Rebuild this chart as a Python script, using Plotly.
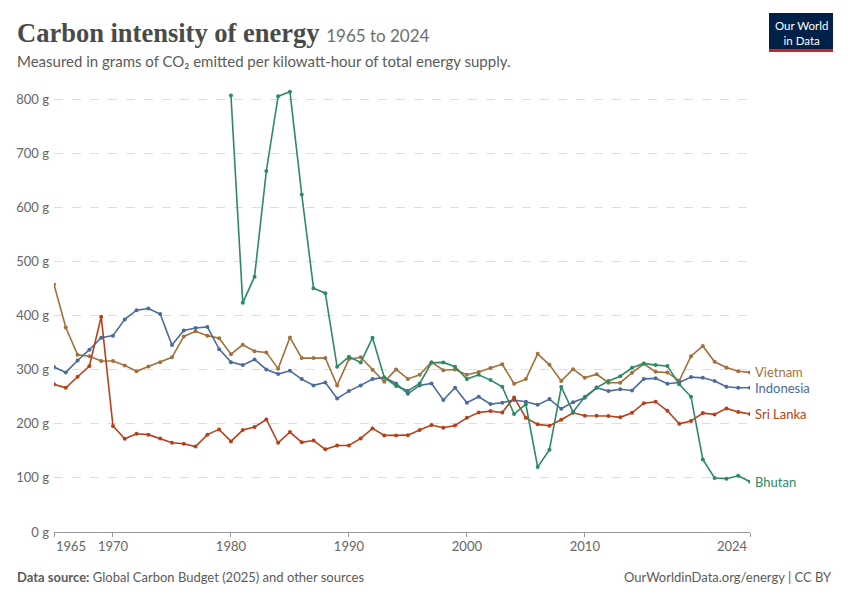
import plotly.graph_objects as go

years = list(range(1965, 2025))
bhutan_years = list(range(1980, 2025))

vietnam = [457.6, 378, 327.5, 325, 316, 316, 308, 297, 306, 314,
           323, 361.5, 371, 363, 358, 328.8, 346, 334, 332, 302,
           359.6, 321.5, 321.5, 321.7, 271, 319.6, 323, 300, 277.7, 300.5,
           283, 290.7, 314, 299, 300.5, 290.7, 295.6, 303, 310, 274,
           282.6, 329.4, 309, 279, 301, 285, 291.6, 276, 276, 294.3,
           311, 296, 295, 279.6, 325, 344, 314.6, 304, 297, 295]

indonesia = [305, 295, 317, 337, 359, 363, 393, 410, 413, 403,
             345.5, 372.6, 377, 379, 338, 314, 308.5, 319, 300.5, 292,
             298, 282.6, 271, 276.5, 247, 260.5, 271, 282.6, 285.7, 274.7,
             255.5, 271, 274.7, 244, 266.6, 239, 250, 236.5, 239, 244,
             240.8, 235, 245.7, 227.8, 240, 248, 266.6, 260.5, 264, 261.7,
             283, 284, 274, 276.5, 286.3, 285, 279, 268.5, 266.6, 266.6]

sri_lanka = [273, 266.6, 287, 306.7, 398, 196, 172.4, 181.6, 180, 173,
             165, 163, 158, 180, 189.7, 167.5, 188.4, 194, 208, 165,
             184.7, 165.7, 169, 152.8, 160, 160, 173, 191.5, 178.6, 178.6,
             179, 188.4, 197.7, 192.7, 197, 211, 221, 223.5, 221, 248.8,
             211, 199, 196.4, 207.5, 220.4, 215, 215, 214.3, 212, 220.4,
             238, 240.8, 224, 200, 205, 219.8, 217.4, 228.5, 222, 218]

bhutan = [806.8, 423.6, 472, 667.5, 805.5, 814, 624, 450.8, 441.5, 305.4,
          324, 313.5, 359, 285.7, 270, 261, 274.7, 312.8, 313.5, 305.4,
          282.6, 290.7, 280.8, 268.5, 218, 236, 120, 152, 268, 222,
          250, 267, 279, 288, 303.5, 311.6, 308.5, 307, 273, 250,
          134, 99.8, 98.5, 104, 93]

series = [
    ("Vietnam", years, vietnam, "#a2713a"),
    ("Indonesia", years, indonesia, "#4c6a9c"),
    ("Sri Lanka", years, sri_lanka, "#b5401a"),
    ("Bhutan", bhutan_years, bhutan, "#2c8a65"),
]

y_ticks = [0, 100, 200, 300, 400, 500, 600, 700, 800]
y_tick_text = ["0 g", "100 g", "200 g", "300 g", "400 g", "500 g", "600 g", "700 g", "800 g"]
x_ticks = [1965, 1970, 1980, 1990, 2000, 2010, 2024]
x_tick_text = ["", "1970", "1980", "1990", "2000", "2010", ""]

W, H = 850, 600
OFF = 8  # page body margin
# target plot area in page pixels: x 54..750, y 83..532
L, R, T, B = 54 - OFF, W - (750 - OFF), 83 - OFF, H - (532 - OFF)

def px(x):
    return (x - OFF - L) / (W - L - R)

def py(y):
    return (H - B - (y - OFF)) / (H - T - B)

fig = go.Figure()
for name, xs, ys, col in series:
    fig.add_trace(go.Scatter(
        x=xs, y=ys, mode="lines+markers", name=name,
        line=dict(color=col, width=1.6),
        marker=dict(color=col, size=4),
        showlegend=False, hoverinfo="skip",
    ))

annotations = []
for name, xs, ys, col in series:
    annotations.append(dict(
        x=xs[-1], y=ys[-1], xref="x", yref="y", text=name,
        showarrow=False, xanchor="left", yanchor="middle", xshift=3,
        font=dict(family="Lato", size=13, color=col),
    ))

annotations.append(dict(
    x=1965, y=0, xref="x", yref="y", text="1965", showarrow=False,
    xanchor="left", yanchor="top", yshift=-4,
    font=dict(family="Lato", size=13, color="#666666"),
))
annotations.append(dict(
    x=2024, y=0, xref="x", yref="y", text="2024", showarrow=False,
    xanchor="right", yanchor="top", yshift=-4,
    font=dict(family="Lato", size=13, color="#666666"),
))

annotations.append(dict(
    x=px(15), y=py(33), xref="paper", yref="paper", showarrow=False,
    xanchor="left", yanchor="middle",
    text='<b>Carbon intensity of energy</b> <span style="font-family:Lato;font-size:17px;color:#6e6e6e">1965 to 2024</span>',
    font=dict(family="Liberation Serif", size=26.5, color="#4a4a4a"),
))
annotations.append(dict(
    x=px(15), y=py(61), xref="paper", yref="paper", showarrow=False,
    xanchor="left", yanchor="middle",
    text="Measured in grams of CO₂ emitted per kilowatt-hour of total energy supply.",
    font=dict(family="Lato", size=15, color="#5b5b5b"),
))
annotations.append(dict(
    x=px(15), y=py(577), xref="paper", yref="paper", showarrow=False,
    xanchor="left", yanchor="middle",
    text="<b>Data source:</b> Global Carbon Budget (2025) and other sources",
    font=dict(family="Lato", size=13, color="#5b5b5b"),
))
annotations.append(dict(
    x=px(834), y=py(577), xref="paper", yref="paper", showarrow=False,
    xanchor="right", yanchor="middle",
    text="OurWorldinData.org/energy | CC BY",
    font=dict(family="Lato", size=13, color="#5b5b5b"),
))
annotations.append(dict(
    x=px(801), y=py(32.5), xref="paper", yref="paper", showarrow=False,
    xanchor="center", yanchor="middle",
    text="Our World<br>in Data",
    font=dict(family="Lato", size=11.5, color="#ffffff"),
))

shapes = [
    dict(type="rect", xref="paper", yref="paper",
         x0=px(769), x1=px(833), y0=py(49), y1=py(13),
         fillcolor="#002147", line=dict(width=0), layer="above"),
    dict(type="rect", xref="paper", yref="paper",
         x0=px(769), x1=px(833), y0=py(52), y1=py(49),
         fillcolor="#ce261e", line=dict(width=0), layer="above"),
]

fig.update_layout(
    width=W, height=H,
    margin=dict(l=L, r=R, t=T, b=B, pad=0, autoexpand=False),
    paper_bgcolor="white", plot_bgcolor="white",
    font=dict(family="Lato", size=13, color="#666666"),
    annotations=annotations, shapes=shapes,
    xaxis=dict(
        range=[1965, 2024], tickvals=x_ticks, ticktext=x_tick_text,
        showgrid=False, zeroline=False, showline=True, linecolor="#999999",
        linewidth=1, ticks="outside", ticklen=4, tickcolor="#999999",
        automargin=False, ticklabelstandoff=-2,
        tickfont=dict(family="Lato", size=13, color="#666666"),
    ),
    yaxis=dict(
        range=[0, 830], tickvals=y_ticks, ticktext=y_tick_text,
        showgrid=True, gridcolor="#dddddd", griddash="dash", gridwidth=1,
        zeroline=False, showline=False, ticks="", ticklabelstandoff=4,
        automargin=False,
        tickfont=dict(family="Lato", size=13, color="#666666"),
    ),
)

fig.write_html("out.html")
